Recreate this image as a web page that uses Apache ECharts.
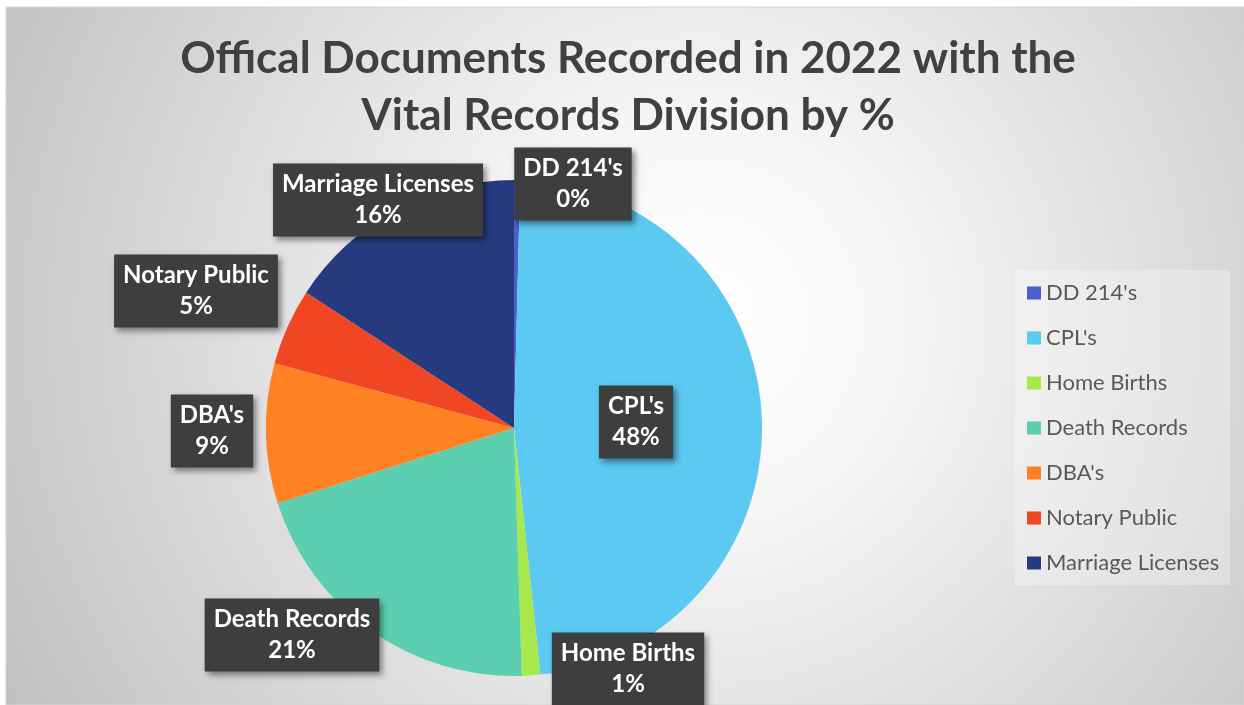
<!DOCTYPE html>
<html>
<head>
<meta charset="utf-8">
<script src="https://cdn.jsdelivr.net/npm/echarts@6/dist/echarts.min.js"></script>
<style>
html, body { margin: 0; padding: 0; background: #fff; }
#chart { width: 1244px; height: 705px; }
</style>
</head>
<body>
<div id="chart"></div>
<script>
// share of documents recorded (%)
var categories = ["DD 214's", "CPL's", 'Home Births', 'Death Records', "DBA's", 'Notary Public', 'Marriage Licenses']
var shares = [0.4, 47.9, 1.2, 20.6, 9.1, 5.0, 15.8]
var colors = ['#4a5fc9', '#5bc9f1', '#a7e84b', '#5dcfb1', '#ff8122', '#f04624', '#263a80']

var chart = echarts.init(document.getElementById('chart'))

// where Excel put each data label box (center point)
var labelSpots = {
  "DD 214's": [573, 184],
  "CPL's": [636, 422],
  'Home Births': [628, 669],
  'Death Records': [292, 635],
  "DBA's": [212, 431],
  'Notary Public': [196, 291],
  'Marriage Licenses': [378, 200]
}

var pieData = categories.map(function (name, i) {
  return { name: name, value: shares[i], itemStyle: { color: colors[i] } }
})

var option = {
  animation: false,
  graphic: [
    {
      type: 'rect',
      shape: { x: 6, y: 7, width: 1238, height: 698 },
      style: {
        fill: new echarts.graphic.RadialGradient(0.56, 0.45, 1.15, [
          { offset: 0, color: '#ffffff' },
          { offset: 0.25, color: '#f6f6f6' },
          { offset: 1, color: '#bfbfbf' }
        ]),
        stroke: '#d4d4d4',
        lineWidth: 1
      },
      z: -10,
      silent: true
    },
    {
      type: 'text',
      x: 628,
      y: 30,
      style: {
        text: 'Offical Documents Recorded in 2022 with the\nVital Records Division by %',
        fill: '#404040',
        font: 'bold 44px Lato',
        textAlign: 'center',
        lineHeight: 57
      }
    }
  ],
  legend: {
    orient: 'vertical',
    left: 1015,
    top: 270,
    padding: [12, 11, 11, 12],
    backgroundColor: 'rgba(255,255,255,0.28)',
    icon: 'rect',
    itemWidth: 14,
    itemHeight: 13,
    itemGap: 23,
    textStyle: { fontFamily: 'Lato', fontSize: 22, color: '#595959', lineHeight: 22 },
    data: categories
  },
  series: [
    {
      type: 'pie',
      center: [514, 428],
      radius: 248,
      startAngle: 90,
      clockwise: true,
      data: pieData,
      emphasis: { disabled: true },
      labelLine: { show: false },
      label: {
        show: true,
        position: 'inside',
        formatter: function (p) {
          return p.name + '\n' + Math.round(p.percent) + '%'
        },
        fontFamily: 'Lato',
        fontWeight: 'bold',
        fontSize: 24,
        lineHeight: 31,
        color: '#ffffff',
        backgroundColor: '#3e3e3e',
        padding: [6, 9, 5, 9],
        shadowColor: 'rgba(0,0,0,0.45)',
        shadowBlur: 6,
        shadowOffsetX: 3,
        shadowOffsetY: 3
      },
      labelLayout: function (params) {
        var name = categories[params.dataIndex]
        var spot = labelSpots[name]
        return { x: spot[0], y: spot[1], align: 'center', verticalAlign: 'middle' }
      }
    }
  ]
}

chart.setOption(option)
</script>
</body>
</html>
